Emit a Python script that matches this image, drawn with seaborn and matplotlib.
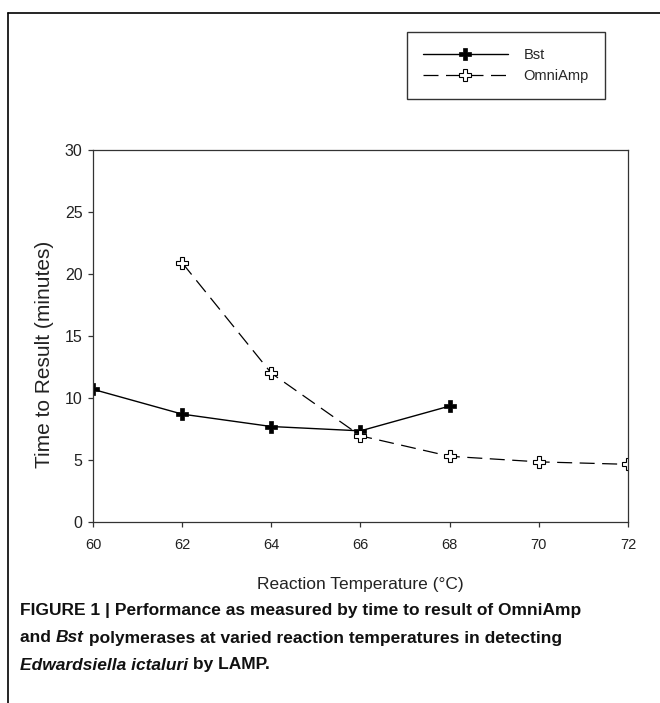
import numpy as np
import pandas as pd
import matplotlib
matplotlib.use("Agg")
import matplotlib.pyplot as plt
from matplotlib.lines import Line2D
import seaborn as sns

sns.set_style("white")
plt.rcParams['font.family'] = ['Liberation Sans', 'DejaVu Sans']

# data
bst_temp = [60, 62, 64, 66, 68]
bst_time = [10.7, 8.7, 7.7, 7.35, 9.35]
omni_temp = [62, 64, 66, 68, 70, 72]
omni_time = [20.9, 12.0, 6.95, 5.3, 4.85, 4.65]

bst = pd.DataFrame({"temp": bst_temp, "time": bst_time})
omni = pd.DataFrame({"temp": omni_temp, "time": omni_time})

fig = plt.figure(figsize=(6.6, 7.03), dpi=100)
ax = fig.add_axes([93 / 660, 1 - 522 / 703, 535 / 660, 372 / 703])

sns.lineplot(data=bst, x="temp", y="time", ax=ax, color="black", lw=1.0,
             marker="P", markersize=8, markerfacecolor="black",
             markeredgecolor="black", markeredgewidth=0.5)
sns.lineplot(data=omni, x="temp", y="time", ax=ax, color="black", lw=0.9,
             dashes=(12, 6), marker="P", markersize=9, markerfacecolor="white",
             markeredgecolor="black", markeredgewidth=0.8)

ax.set_xlim(60, 72)
ax.set_ylim(0, 30)
ax.set_xticks(np.arange(60, 73, 2))
ax.set_yticks(np.arange(0, 31, 5))
for s in ax.spines.values():
    s.set_color("#333333")
    s.set_linewidth(0.9)
ax.tick_params(direction="out", length=3.5, width=0.9, color="#333333",
               labelcolor="#222222", bottom=True, left=True)
ax.tick_params(axis="x", pad=8, labelsize=10.5)
ax.tick_params(axis="y", pad=4, labelsize=11.5)
ax.set_xlabel("Reaction Temperature (°C)", fontsize=12.5, color="#222222")
ax.set_ylabel("Time to Result (minutes)", fontsize=15, color="#222222")
ax.xaxis.set_label_coords(0.5, -0.148)
ax.yaxis.set_label_coords(-0.073, 0.45)

# legend
handles = [
    Line2D([], [], color="black", lw=1.0, marker="P", markersize=8,
           markerfacecolor="black", markeredgecolor="black", markeredgewidth=0.5),
    Line2D([], [], color="black", lw=0.9, dashes=(12, 6), marker="P", markersize=9,
           markerfacecolor="white", markeredgecolor="black", markeredgewidth=0.8),
]
leg = fig.legend(handles, ["Bst", "OmniAmp"], loc="upper left",
                 bbox_to_anchor=(407 / 660, 1 - 32 / 703), fontsize=10.5,
                 handlelength=5.8, handletextpad=1.1, borderpad=1.1,
                 labelspacing=0.5, borderaxespad=0, fancybox=False, framealpha=1)
leg.get_frame().set_edgecolor("#333333")
leg.get_frame().set_linewidth(1.0)

# page border
fig.add_artist(Line2D([8 / 660, 1], [1 - 13 / 703, 1 - 13 / 703],
                      transform=fig.transFigure, color="black", lw=1.2))
fig.add_artist(Line2D([8 / 660, 8 / 660], [0, 1 - 13 / 703],
                      transform=fig.transFigure, color="black", lw=1.2))

# caption with italic pieces
cap_lines = [
    [("FIGURE 1 | Performance as measured by time to result of OmniAmp", "normal")],
    [("and ", "normal"), ("Bst", "italic"),
     (" polymerases at varied reaction temperatures in detecting", "normal")],
    [("Edwardsiella ictaluri", "italic"), (" by LAMP.", "normal")],
]
cap_y = [610, 638, 665]
fig.canvas.draw()
renderer = fig.canvas.get_renderer()
for pieces, yy in zip(cap_lines, cap_y):
    x = 20
    for txt, st in pieces:
        t = fig.text(x / 660, 1 - yy / 703, txt, fontsize=12.5, fontweight="bold",
                     style=st, va="center", ha="left", color="#111111",
                     family=["Liberation Sans Narrow", "Liberation Sans"],
                     fontstretch="condensed")
        bb = t.get_window_extent(renderer)
        x = bb.x1

fig.savefig("out.png", dpi=100)
